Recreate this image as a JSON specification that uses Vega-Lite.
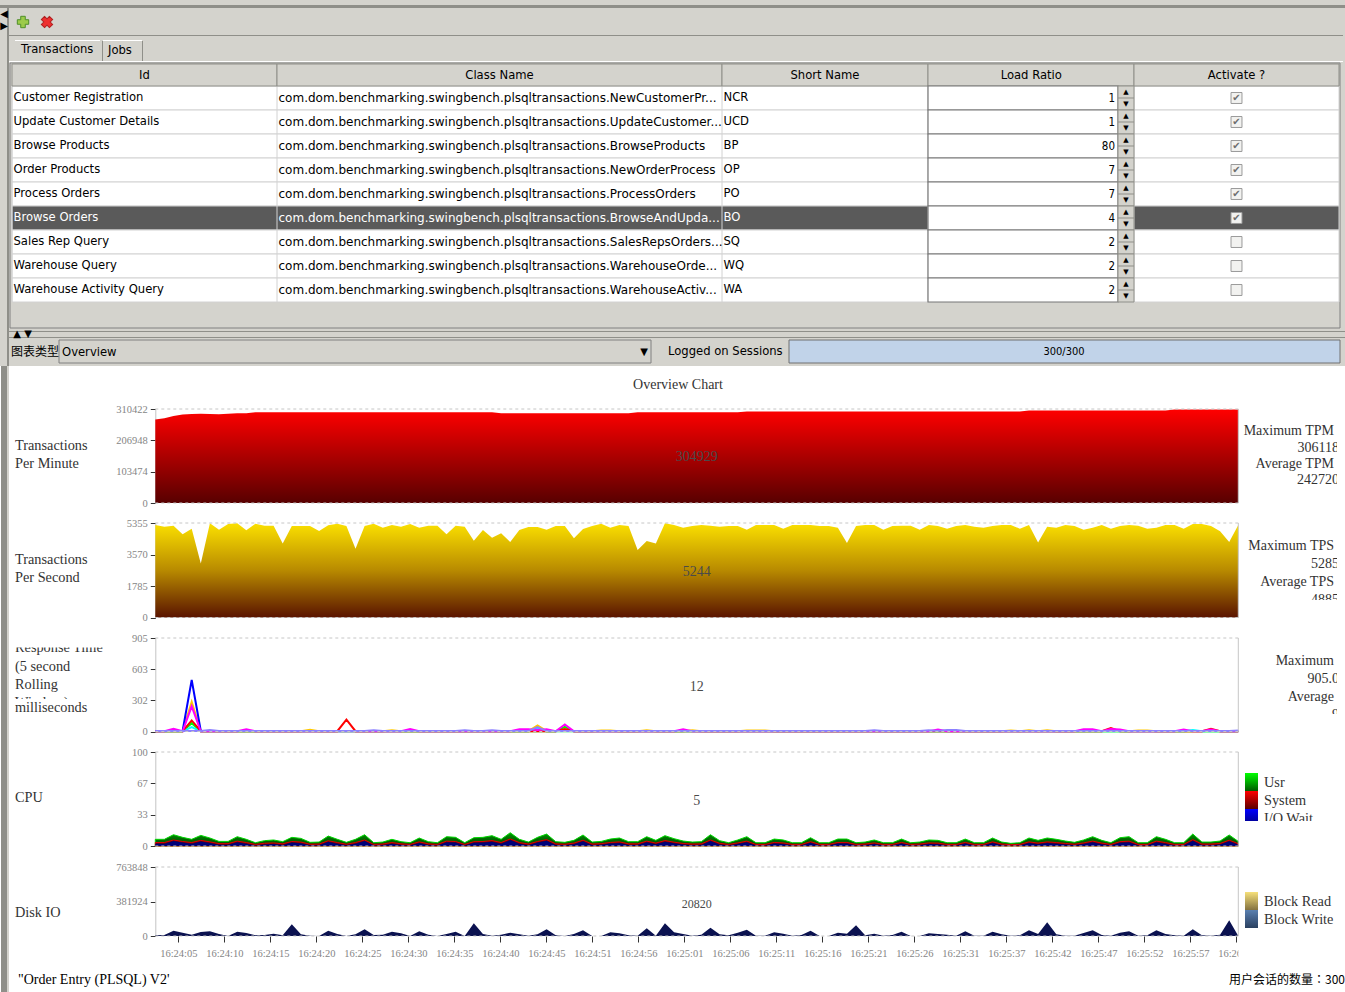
{
  "$schema": "https://vega.github.io/schema/vega-lite/v6.json",
  "width": 1345,
  "height": 992,
  "padding": 0,
  "autosize": {"type": "none"},
  "background": "white",
  "config": {
    "view": {"stroke": null},
    "axis": {"grid": false, "title": null, "labelFont": "Liberation Serif", "labelFontSize": 10.5, "labelColor": "#858585", "tickColor": "#333333", "tickSize": 5, "domainColor": "#c4c4c4", "labelOverlap": false, "labelBound": false, "labelFlush": false, "labelPadding": 3}
  },
  "resolve": {
    "scale": {"x": "independent", "y": "independent", "color": "independent", "stroke": "independent"},
    "axis": {"x": "independent", "y": "independent"}
  },
  "datasets": {
    "chrome": [
      {"part": "panel", "x0": 0, "x1": 16, "y0": 0, "y1": 17},
      {"part": "edge", "x0": 0, "x1": 16, "y0": 1, "y1": 2},
      {"part": "edge", "x0": 3, "x1": 15, "y0": 3, "y1": 4},
      {"part": "white", "x0": 5, "x1": 7, "y0": 5, "y1": 6},
      {"part": "edge", "x0": 8, "x1": 9, "y0": 6, "y1": 7},
      {"part": "white", "x0": 9, "x1": 10, "y0": 5, "y1": 6},
      {"part": "edge", "x0": 10, "x1": 11, "y0": 6, "y1": 7},
      {"part": "white", "x0": 3, "x1": 15, "y0": 7, "y1": 8},
      {"part": "table", "x0": 4, "x1": 14, "y0": 9, "y1": 10},
      {"part": "edge", "x0": 3, "x1": 16, "y0": 11, "y1": 12},
      {"part": "edge", "x0": 3, "x1": 16, "y0": 13, "y1": 14},
      {"part": "table", "x0": 6, "x1": 12, "y0": 15, "y1": 16},
      {"part": "progress", "x0": 13, "x1": 14, "y0": 15, "y1": 16},
      {"part": "edge", "x0": 1, "x1": 2, "y0": 17, "y1": 18},
      {"part": "panel", "x0": 2, "x1": 3, "y0": 17, "y1": 18},
      {"part": "edge", "x0": 2, "x1": 3, "y0": 2, "y1": 17}
    ],
    "columns": [
      {"col": 0, "end": 1, "mid": 0.5, "name": "Id"},
      {"col": 1, "end": 2, "mid": 1.5, "name": "Class Name"},
      {"col": 2, "end": 3, "mid": 2.5, "name": "Short Name"},
      {"col": 3, "end": 4, "mid": 3.5, "name": "Load Ratio"},
      {"col": 4, "end": 5, "mid": 4.5, "name": "Activate ?"}
    ],
    "rows": [
      {"row": 0, "next": 1, "mid": 0.5, "ratio": 1, "active": true, "sel": "n"},
      {"row": 1, "next": 2, "mid": 1.5, "ratio": 1, "active": true, "sel": "n"},
      {"row": 2, "next": 3, "mid": 2.5, "ratio": 80, "active": true, "sel": "n"},
      {"row": 3, "next": 4, "mid": 3.5, "ratio": 7, "active": true, "sel": "n"},
      {"row": 4, "next": 5, "mid": 4.5, "ratio": 7, "active": true, "sel": "n"},
      {"row": 5, "next": 6, "mid": 5.5, "ratio": 4, "active": true, "sel": "y"},
      {"row": 6, "next": 7, "mid": 6.5, "ratio": 2, "active": false, "sel": "n"},
      {"row": 7, "next": 8, "mid": 7.5, "ratio": 2, "active": false, "sel": "n"},
      {"row": 8, "next": 9, "mid": 8.5, "ratio": 2, "active": false, "sel": "n"}
    ],
    "cells": [
      {"col": 0, "mid": 0.5, "sel": "n", "text": "Customer Registration"},
      {"col": 1, "mid": 0.5, "sel": "n", "text": "com.dom.benchmarking.swingbench.plsqltransactions.NewCustomerPr..."},
      {"col": 2, "mid": 0.5, "sel": "n", "text": "NCR"},
      {"col": 0, "mid": 1.5, "sel": "n", "text": "Update Customer Details"},
      {"col": 1, "mid": 1.5, "sel": "n", "text": "com.dom.benchmarking.swingbench.plsqltransactions.UpdateCustomer..."},
      {"col": 2, "mid": 1.5, "sel": "n", "text": "UCD"},
      {"col": 0, "mid": 2.5, "sel": "n", "text": "Browse Products"},
      {"col": 1, "mid": 2.5, "sel": "n", "text": "com.dom.benchmarking.swingbench.plsqltransactions.BrowseProducts"},
      {"col": 2, "mid": 2.5, "sel": "n", "text": "BP"},
      {"col": 0, "mid": 3.5, "sel": "n", "text": "Order Products"},
      {"col": 1, "mid": 3.5, "sel": "n", "text": "com.dom.benchmarking.swingbench.plsqltransactions.NewOrderProcess"},
      {"col": 2, "mid": 3.5, "sel": "n", "text": "OP"},
      {"col": 0, "mid": 4.5, "sel": "n", "text": "Process Orders"},
      {"col": 1, "mid": 4.5, "sel": "n", "text": "com.dom.benchmarking.swingbench.plsqltransactions.ProcessOrders"},
      {"col": 2, "mid": 4.5, "sel": "n", "text": "PO"},
      {"col": 0, "mid": 5.5, "sel": "y", "text": "Browse Orders"},
      {"col": 1, "mid": 5.5, "sel": "y", "text": "com.dom.benchmarking.swingbench.plsqltransactions.BrowseAndUpda..."},
      {"col": 2, "mid": 5.5, "sel": "y", "text": "BO"},
      {"col": 0, "mid": 6.5, "sel": "n", "text": "Sales Rep Query"},
      {"col": 1, "mid": 6.5, "sel": "n", "text": "com.dom.benchmarking.swingbench.plsqltransactions.SalesRepsOrders..."},
      {"col": 2, "mid": 6.5, "sel": "n", "text": "SQ"},
      {"col": 0, "mid": 7.5, "sel": "n", "text": "Warehouse Query"},
      {"col": 1, "mid": 7.5, "sel": "n", "text": "com.dom.benchmarking.swingbench.plsqltransactions.WarehouseOrde..."},
      {"col": 2, "mid": 7.5, "sel": "n", "text": "WQ"},
      {"col": 0, "mid": 8.5, "sel": "n", "text": "Warehouse Activity Query"},
      {"col": 1, "mid": 8.5, "sel": "n", "text": "com.dom.benchmarking.swingbench.plsqltransactions.WarehouseActiv..."},
      {"col": 2, "mid": 8.5, "sel": "n", "text": "WA"}
    ],
    "samples": [
      {"s":0,"tpm":275900,"tps":5241,"usr":7.1,"sys":3.7,"io":2.5,"disk":7400},
      {"s":1,"tpm":280000,"tps":5146,"usr":7.1,"sys":3.7,"io":2.5,"disk":11100},
      {"s":2,"tpm":287000,"tps":5203,"usr":12,"sys":6.4,"io":5.2,"disk":59300},
      {"s":3,"tpm":292000,"tps":4711,"usr":9.2,"sys":4.8,"io":3.6,"disk":37100},
      {"s":4,"tpm":294000,"tps":5033,"usr":7.1,"sys":3.7,"io":2.5,"disk":14800},
      {"s":5,"tpm":295000,"tps":3065,"usr":11.3,"sys":6,"io":4.8,"disk":44500},
      {"s":6,"tpm":294300,"tps":5335,"usr":8.5,"sys":4.4,"io":3.2,"disk":51900},
      {"s":7,"tpm":293000,"tps":4976,"usr":4.9,"sys":2.5,"io":1.3,"disk":22200},
      {"s":8,"tpm":295000,"tps":5298,"usr":4.9,"sys":2.5,"io":1.3,"disk":0},
      {"s":9,"tpm":296000,"tps":5335,"usr":9.9,"sys":5.2,"io":4,"disk":48200},
      {"s":10,"tpm":296000,"tps":4938,"usr":7.1,"sys":3.7,"io":2.5,"disk":33400},
      {"s":11,"tpm":299300,"tps":5317,"usr":3.5,"sys":1.7,"io":0.5,"disk":7400},
      {"s":12,"tpm":299300,"tps":5203,"usr":5.7,"sys":2.9,"io":1.7,"disk":11100},
      {"s":13,"tpm":299300,"tps":5203,"usr":6.4,"sys":3.3,"io":2.1,"disk":26000},
      {"s":14,"tpm":299300,"tps":4200,"usr":4.6,"sys":2.3,"io":1.1,"disk":7400},
      {"s":15,"tpm":299300,"tps":5184,"usr":9.2,"sys":4.8,"io":3.6,"disk":129800},
      {"s":16,"tpm":299300,"tps":5184,"usr":8.1,"sys":4.2,"io":3,"disk":18500},
      {"s":17,"tpm":299300,"tps":5184,"usr":3.9,"sys":1.9,"io":0.8,"disk":3700},
      {"s":18,"tpm":299300,"tps":4900,"usr":4.2,"sys":2.1,"io":0.9,"disk":0},
      {"s":19,"tpm":299300,"tps":5222,"usr":10.6,"sys":5.6,"io":4.4,"disk":59300},
      {"s":20,"tpm":299300,"tps":5317,"usr":7.1,"sys":3.7,"io":2.5,"disk":22200},
      {"s":21,"tpm":299300,"tps":5184,"usr":3.9,"sys":1.9,"io":0.8,"disk":0},
      {"s":22,"tpm":299300,"tps":3897,"usr":7.1,"sys":3.7,"io":2.5,"disk":18500},
      {"s":23,"tpm":299300,"tps":5184,"usr":12,"sys":6.4,"io":5.2,"disk":74200},
      {"s":24,"tpm":299300,"tps":5317,"usr":3.5,"sys":1.7,"io":0.5,"disk":11100},
      {"s":25,"tpm":299300,"tps":5089,"usr":4.2,"sys":2.1,"io":0.9,"disk":14800},
      {"s":26,"tpm":299300,"tps":5241,"usr":7.1,"sys":3.7,"io":2.5,"disk":48200},
      {"s":27,"tpm":299300,"tps":5146,"usr":4.6,"sys":2.3,"io":1.1,"disk":29700},
      {"s":28,"tpm":299300,"tps":5298,"usr":3.5,"sys":1.7,"io":0.5,"disk":0},
      {"s":29,"tpm":299300,"tps":5089,"usr":8.5,"sys":4.4,"io":3.2,"disk":51900},
      {"s":30,"tpm":299300,"tps":5203,"usr":4.6,"sys":2.3,"io":1.1,"disk":14800},
      {"s":31,"tpm":299300,"tps":5203,"usr":3.5,"sys":1.7,"io":0.5,"disk":0},
      {"s":32,"tpm":299300,"tps":4711,"usr":9.9,"sys":5.2,"io":4,"disk":22200},
      {"s":33,"tpm":299300,"tps":5203,"usr":9.2,"sys":4.8,"io":3.6,"disk":48200},
      {"s":34,"tpm":299300,"tps":5146,"usr":3.5,"sys":1.7,"io":0.5,"disk":0},
      {"s":35,"tpm":299300,"tps":4352,"usr":8.8,"sys":4.6,"io":3.4,"disk":140900},
      {"s":36,"tpm":299300,"tps":4957,"usr":9.2,"sys":4.8,"io":3.6,"disk":22200},
      {"s":37,"tpm":299300,"tps":4522,"usr":11,"sys":5.8,"io":4.6,"disk":3700},
      {"s":38,"tpm":296500,"tps":4768,"usr":7.1,"sys":3.7,"io":2.5,"disk":14800},
      {"s":39,"tpm":296500,"tps":4276,"usr":14.1,"sys":7.5,"io":6.3,"disk":37100},
      {"s":40,"tpm":296500,"tps":4957,"usr":7.1,"sys":3.7,"io":2.5,"disk":18500},
      {"s":41,"tpm":296500,"tps":5127,"usr":4.2,"sys":2.1,"io":0.9,"disk":3700},
      {"s":42,"tpm":296500,"tps":5127,"usr":9.2,"sys":4.8,"io":3.6,"disk":18500},
      {"s":43,"tpm":296500,"tps":4976,"usr":12.7,"sys":6.8,"io":5.6,"disk":74200},
      {"s":44,"tpm":296500,"tps":5184,"usr":4.6,"sys":2.3,"io":1.1,"disk":7400},
      {"s":45,"tpm":296500,"tps":5184,"usr":3.9,"sys":1.9,"io":0.8,"disk":0},
      {"s":46,"tpm":296500,"tps":4484,"usr":6,"sys":3.1,"io":1.9,"disk":22200},
      {"s":47,"tpm":296500,"tps":5014,"usr":11.7,"sys":6.2,"io":5,"disk":63000},
      {"s":48,"tpm":296500,"tps":5184,"usr":4.2,"sys":2.1,"io":0.9,"disk":0},
      {"s":49,"tpm":296500,"tps":5317,"usr":4.9,"sys":2.5,"io":1.3,"disk":0},
      {"s":50,"tpm":296500,"tps":5089,"usr":7.4,"sys":3.8,"io":2.6,"disk":40800},
      {"s":51,"tpm":296500,"tps":5241,"usr":8.5,"sys":4.4,"io":3.2,"disk":29700},
      {"s":52,"tpm":296500,"tps":5184,"usr":4.6,"sys":2.3,"io":1.1,"disk":7400},
      {"s":53,"tpm":299300,"tps":3822,"usr":4.6,"sys":2.3,"io":1.1,"disk":3700},
      {"s":54,"tpm":299300,"tps":4333,"usr":9.9,"sys":5.2,"io":4,"disk":85300},
      {"s":55,"tpm":299300,"tps":4200,"usr":6,"sys":3.1,"io":1.9,"disk":3700},
      {"s":56,"tpm":299300,"tps":5335,"usr":11,"sys":5.8,"io":4.6,"disk":140900},
      {"s":57,"tpm":299300,"tps":5241,"usr":7.8,"sys":4.1,"io":2.9,"disk":40800},
      {"s":58,"tpm":299300,"tps":5089,"usr":5.3,"sys":2.7,"io":1.5,"disk":22200},
      {"s":59,"tpm":299300,"tps":5184,"usr":4.2,"sys":2.1,"io":0.9,"disk":3700},
      {"s":60,"tpm":299300,"tps":5241,"usr":4.6,"sys":2.3,"io":1.1,"disk":14800},
      {"s":61,"tpm":299300,"tps":5203,"usr":12,"sys":6.4,"io":5.2,"disk":92700},
      {"s":62,"tpm":299300,"tps":5146,"usr":5.7,"sys":2.9,"io":1.7,"disk":18500},
      {"s":63,"tpm":299300,"tps":5184,"usr":3.5,"sys":1.7,"io":0.5,"disk":7400},
      {"s":64,"tpm":299300,"tps":5184,"usr":6.4,"sys":3.3,"io":2.1,"disk":37100},
      {"s":65,"tpm":302000,"tps":4976,"usr":9.9,"sys":5.2,"io":4,"disk":70500},
      {"s":66,"tpm":302000,"tps":5241,"usr":3.5,"sys":1.7,"io":0.5,"disk":3700},
      {"s":67,"tpm":302000,"tps":5241,"usr":3.5,"sys":1.7,"io":0.5,"disk":3700},
      {"s":68,"tpm":302000,"tps":5241,"usr":7.4,"sys":3.8,"io":2.6,"disk":40800},
      {"s":69,"tpm":302000,"tps":5033,"usr":6.4,"sys":3.3,"io":2.1,"disk":26000},
      {"s":70,"tpm":302000,"tps":5241,"usr":3.5,"sys":1.7,"io":0.5,"disk":3700},
      {"s":71,"tpm":302000,"tps":5241,"usr":3.5,"sys":1.7,"io":0.5,"disk":11100},
      {"s":72,"tpm":302000,"tps":5241,"usr":8.8,"sys":4.6,"io":3.4,"disk":59300},
      {"s":73,"tpm":302000,"tps":5184,"usr":3.5,"sys":1.7,"io":0.5,"disk":0},
      {"s":74,"tpm":302000,"tps":5184,"usr":3.5,"sys":1.7,"io":0.5,"disk":0},
      {"s":75,"tpm":302000,"tps":5089,"usr":7.4,"sys":3.8,"io":2.6,"disk":37100},
      {"s":76,"tpm":302000,"tps":4219,"usr":7.4,"sys":3.8,"io":2.6,"disk":26000},
      {"s":77,"tpm":302000,"tps":5184,"usr":3.5,"sys":1.7,"io":0.5,"disk":118700},
      {"s":78,"tpm":302000,"tps":5241,"usr":4.2,"sys":2.1,"io":0.9,"disk":7400},
      {"s":79,"tpm":302000,"tps":5241,"usr":6.4,"sys":3.3,"io":2.1,"disk":26000},
      {"s":80,"tpm":302000,"tps":4976,"usr":3.5,"sys":1.7,"io":0.5,"disk":3700},
      {"s":81,"tpm":302000,"tps":5184,"usr":3.5,"sys":1.7,"io":0.5,"disk":11100},
      {"s":82,"tpm":302000,"tps":5203,"usr":7.4,"sys":3.8,"io":2.6,"disk":48200},
      {"s":83,"tpm":302000,"tps":5203,"usr":3.5,"sys":1.7,"io":0.5,"disk":0},
      {"s":84,"tpm":302000,"tps":4976,"usr":4.2,"sys":2.1,"io":0.9,"disk":0},
      {"s":85,"tpm":302000,"tps":5241,"usr":6.4,"sys":3.3,"io":2.1,"disk":29700},
      {"s":86,"tpm":302000,"tps":5184,"usr":6,"sys":3.1,"io":1.9,"disk":22200},
      {"s":87,"tpm":302000,"tps":5033,"usr":3.5,"sys":1.7,"io":0.5,"disk":14800},
      {"s":88,"tpm":302000,"tps":5184,"usr":3.5,"sys":1.7,"io":0.5,"disk":3700},
      {"s":89,"tpm":302000,"tps":5241,"usr":7.4,"sys":3.8,"io":2.6,"disk":51900},
      {"s":90,"tpm":302000,"tps":5146,"usr":3.5,"sys":1.7,"io":0.5,"disk":3700},
      {"s":91,"tpm":302000,"tps":5089,"usr":3.5,"sys":1.7,"io":0.5,"disk":3700},
      {"s":92,"tpm":302000,"tps":5184,"usr":8.5,"sys":4.4,"io":3.2,"disk":48200},
      {"s":93,"tpm":302000,"tps":5241,"usr":4.2,"sys":2.1,"io":0.9,"disk":18500},
      {"s":94,"tpm":302000,"tps":5241,"usr":2.8,"sys":1.4,"io":0.3,"disk":3700},
      {"s":95,"tpm":302000,"tps":5033,"usr":3.5,"sys":1.7,"io":0.5,"disk":7400},
      {"s":96,"tpm":305500,"tps":5241,"usr":8.5,"sys":4.4,"io":3.2,"disk":63000},
      {"s":97,"tpm":305500,"tps":4257,"usr":6,"sys":3.1,"io":1.9,"disk":22200},
      {"s":98,"tpm":305500,"tps":5146,"usr":8.5,"sys":4.4,"io":3.2,"disk":152000},
      {"s":99,"tpm":305500,"tps":5089,"usr":7.1,"sys":3.7,"io":2.5,"disk":18500},
      {"s":100,"tpm":305500,"tps":5241,"usr":5.3,"sys":2.7,"io":1.5,"disk":3700},
      {"s":101,"tpm":305500,"tps":5184,"usr":3.9,"sys":1.9,"io":0.8,"disk":3700},
      {"s":102,"tpm":305500,"tps":4976,"usr":6.4,"sys":3.3,"io":2.1,"disk":33400},
      {"s":103,"tpm":305500,"tps":5089,"usr":9.9,"sys":5.2,"io":4,"disk":63000},
      {"s":104,"tpm":305500,"tps":5241,"usr":6,"sys":3.1,"io":1.9,"disk":11100},
      {"s":105,"tpm":305500,"tps":5033,"usr":3.5,"sys":1.7,"io":0.5,"disk":3700},
      {"s":106,"tpm":305500,"tps":5184,"usr":8.8,"sys":4.6,"io":3.4,"disk":37100},
      {"s":107,"tpm":305500,"tps":5241,"usr":9.9,"sys":5.2,"io":4,"disk":51900},
      {"s":108,"tpm":305500,"tps":5203,"usr":3.5,"sys":1.7,"io":0.5,"disk":3700},
      {"s":109,"tpm":305500,"tps":5033,"usr":3.5,"sys":1.7,"io":0.5,"disk":7400},
      {"s":110,"tpm":305500,"tps":5089,"usr":9.9,"sys":5.2,"io":4,"disk":63000},
      {"s":111,"tpm":305500,"tps":5241,"usr":7.1,"sys":3.7,"io":2.5,"disk":22200},
      {"s":112,"tpm":308500,"tps":5241,"usr":3.5,"sys":1.7,"io":0.5,"disk":7400},
      {"s":113,"tpm":308500,"tps":5033,"usr":3.5,"sys":1.7,"io":0.5,"disk":3700},
      {"s":114,"tpm":308500,"tps":5298,"usr":12.7,"sys":6.8,"io":5.6,"disk":74200},
      {"s":115,"tpm":308500,"tps":5298,"usr":4.2,"sys":2.1,"io":0.9,"disk":7400},
      {"s":116,"tpm":308500,"tps":5184,"usr":4.2,"sys":2.1,"io":0.9,"disk":3700},
      {"s":117,"tpm":308500,"tps":4881,"usr":5.3,"sys":2.7,"io":1.5,"disk":14800},
      {"s":118,"tpm":308500,"tps":4276,"usr":11.7,"sys":6.2,"io":5,"disk":174300},
      {"s":119,"tpm":308500,"tps":5241,"usr":4.9,"sys":2.5,"io":1.3,"disk":0}
    ],
    "response": [
      {"tx":"OP","s":0,"ms":3},{"tx":"OP","s":3,"ms":3},{"tx":"OP","s":4,"ms":286},{"tx":"OP","s":5,"ms":3},{"tx":"OP","s":16,"ms":3},{"tx":"OP","s":17,"ms":16},{"tx":"OP","s":18,"ms":3},{"tx":"OP","s":25,"ms":3},{"tx":"OP","s":26,"ms":12},{"tx":"OP","s":27,"ms":3},{"tx":"OP","s":41,"ms":3},{"tx":"OP","s":42,"ms":58},{"tx":"OP","s":43,"ms":3},{"tx":"OP","s":48,"ms":3},{"tx":"OP","s":49,"ms":10},{"tx":"OP","s":50,"ms":10},{"tx":"OP","s":51,"ms":3},{"tx":"OP","s":53,"ms":3},{"tx":"OP","s":54,"ms":12},{"tx":"OP","s":55,"ms":3},{"tx":"OP","s":58,"ms":3},{"tx":"OP","s":59,"ms":12},{"tx":"OP","s":60,"ms":3},{"tx":"OP","s":64,"ms":3},{"tx":"OP","s":65,"ms":10},{"tx":"OP","s":67,"ms":10},{"tx":"OP","s":68,"ms":3},{"tx":"OP","s":93,"ms":3},{"tx":"OP","s":94,"ms":10},{"tx":"OP","s":95,"ms":3},{"tx":"OP","s":96,"ms":12},{"tx":"OP","s":97,"ms":3},{"tx":"OP","s":98,"ms":12},{"tx":"OP","s":99,"ms":3},{"tx":"OP","s":107,"ms":3},{"tx":"OP","s":108,"ms":10},{"tx":"OP","s":109,"ms":10},{"tx":"OP","s":110,"ms":3},{"tx":"OP","s":119,"ms":3},
      {"tx":"PO","s":0,"ms":5},{"tx":"PO","s":3,"ms":5},{"tx":"PO","s":4,"ms":498},{"tx":"PO","s":5,"ms":5},{"tx":"PO","s":119,"ms":5},
      {"tx":"BO","s":0,"ms":2},{"tx":"BO","s":3,"ms":2},{"tx":"BO","s":4,"ms":81},{"tx":"BO","s":5,"ms":2},{"tx":"BO","s":44,"ms":2},{"tx":"BO","s":45,"ms":45},{"tx":"BO","s":46,"ms":2},{"tx":"BO","s":119,"ms":2},
      {"tx":"SQ","s":0,"ms":2},{"tx":"SQ","s":3,"ms":2},{"tx":"SQ","s":4,"ms":42},{"tx":"SQ","s":5,"ms":2},{"tx":"SQ","s":41,"ms":2},{"tx":"SQ","s":42,"ms":28},{"tx":"SQ","s":43,"ms":2},{"tx":"SQ","s":113,"ms":2},{"tx":"SQ","s":114,"ms":14},{"tx":"SQ","s":115,"ms":2},{"tx":"SQ","s":119,"ms":2},
      {"tx":"NCR","s":0,"ms":3},{"tx":"NCR","s":3,"ms":3},{"tx":"NCR","s":4,"ms":107},{"tx":"NCR","s":5,"ms":3},{"tx":"NCR","s":20,"ms":3},{"tx":"NCR","s":21,"ms":114},{"tx":"NCR","s":22,"ms":3},{"tx":"NCR","s":44,"ms":3},{"tx":"NCR","s":45,"ms":25},{"tx":"NCR","s":46,"ms":3},{"tx":"NCR","s":104,"ms":3},{"tx":"NCR","s":105,"ms":34},{"tx":"NCR","s":106,"ms":3},{"tx":"NCR","s":115,"ms":3},{"tx":"NCR","s":116,"ms":26},{"tx":"NCR","s":117,"ms":3},{"tx":"NCR","s":119,"ms":3},
      {"tx":"UCD","s":0,"ms":2},{"tx":"UCD","s":1,"ms":2},{"tx":"UCD","s":2,"ms":26},{"tx":"UCD","s":3,"ms":2},{"tx":"UCD","s":4,"ms":244},{"tx":"UCD","s":5,"ms":2},{"tx":"UCD","s":9,"ms":2},{"tx":"UCD","s":10,"ms":22},{"tx":"UCD","s":11,"ms":2},{"tx":"UCD","s":27,"ms":2},{"tx":"UCD","s":28,"ms":24},{"tx":"UCD","s":29,"ms":2},{"tx":"UCD","s":39,"ms":2},{"tx":"UCD","s":40,"ms":22},{"tx":"UCD","s":41,"ms":22},{"tx":"UCD","s":42,"ms":14},{"tx":"UCD","s":43,"ms":22},{"tx":"UCD","s":44,"ms":2},{"tx":"UCD","s":45,"ms":68},{"tx":"UCD","s":46,"ms":2},{"tx":"UCD","s":57,"ms":2},{"tx":"UCD","s":58,"ms":22},{"tx":"UCD","s":59,"ms":2},{"tx":"UCD","s":85,"ms":2},{"tx":"UCD","s":86,"ms":20},{"tx":"UCD","s":87,"ms":2},{"tx":"UCD","s":101,"ms":2},{"tx":"UCD","s":102,"ms":22},{"tx":"UCD","s":103,"ms":22},{"tx":"UCD","s":104,"ms":2},{"tx":"UCD","s":105,"ms":24},{"tx":"UCD","s":106,"ms":20},{"tx":"UCD","s":107,"ms":2},{"tx":"UCD","s":112,"ms":2},{"tx":"UCD","s":113,"ms":20},{"tx":"UCD","s":114,"ms":2},{"tx":"UCD","s":115,"ms":2},{"tx":"UCD","s":116,"ms":20},{"tx":"UCD","s":117,"ms":2},{"tx":"UCD","s":119,"ms":2},
      {"tx":"BP","s":0,"ms":4},{"tx":"BP","s":5,"ms":4},{"tx":"BP","s":6,"ms":14},{"tx":"BP","s":7,"ms":4},{"tx":"BP","s":23,"ms":4},{"tx":"BP","s":24,"ms":12},{"tx":"BP","s":25,"ms":4},{"tx":"BP","s":33,"ms":4},{"tx":"BP","s":34,"ms":12},{"tx":"BP","s":35,"ms":4},{"tx":"BP","s":36,"ms":4},{"tx":"BP","s":37,"ms":12},{"tx":"BP","s":38,"ms":4},{"tx":"BP","s":41,"ms":4},{"tx":"BP","s":42,"ms":42},{"tx":"BP","s":43,"ms":4},{"tx":"BP","s":78,"ms":4},{"tx":"BP","s":79,"ms":13},{"tx":"BP","s":80,"ms":4},{"tx":"BP","s":84,"ms":4},{"tx":"BP","s":85,"ms":12},{"tx":"BP","s":86,"ms":4},{"tx":"BP","s":87,"ms":14},{"tx":"BP","s":88,"ms":14},{"tx":"BP","s":89,"ms":4},{"tx":"BP","s":118,"ms":4},{"tx":"BP","s":119,"ms":10}
    ],
    "ticks": [
      {"time":"16:24:05"},{"time":"16:24:10"},{"time":"16:24:15"},{"time":"16:24:20"},{"time":"16:24:25"},{"time":"16:24:30"},{"time":"16:24:35"},{"time":"16:24:40"},{"time":"16:24:45"},{"time":"16:24:51"},{"time":"16:24:56"},{"time":"16:25:01"},{"time":"16:25:06"},{"time":"16:25:11"},{"time":"16:25:16"},{"time":"16:25:21"},{"time":"16:25:26"},{"time":"16:25:31"},{"time":"16:25:37"},{"time":"16:25:42"},{"time":"16:25:47"},{"time":"16:25:52"},{"time":"16:25:57"},{"time":"16:26:02"}
    ]
  },
  "layer": [
    {
      "data": {"name": "chrome"},
      "mark": {"type": "rect", "strokeWidth": 1},
      "encoding": {
        "x": {"field": "x0", "type": "quantitative", "axis": null, "scale": {"domain": [0,1,2,3,4,5,6,7,8,9,10,11,12,13,14,15,16], "range": [0,1,7,9,10,15,59,100,102,103,142,143,651,789,1340,1343,1345]}},
        "x2": {"field": "x1"},
        "y": {"field": "y0", "type": "quantitative", "axis": null, "scale": {"domain": [0,1,2,3,4,5,6,7,8,9,10,11,12,13,14,15,16,17,18], "range": [0,5,8,35,36,40,41,61,62,63,328,331,332,337,338,340,363,366,992]}},
        "y2": {"field": "y1"},
        "color": {"field": "part", "type": "nominal", "legend": null, "scale": {"domain": ["panel","edge","white","table","progress"], "range": ["#d4d3cd","#8f8f89","#ffffff","#d4d3cd","#c1d3e9"]}},
        "stroke": {"field": "part", "type": "nominal", "legend": null, "scale": {"domain": ["panel","edge","white","table","progress"], "range": ["transparent","transparent","transparent","#808080","#707070"]}}
      }
    },
    {
      "data": {"name": "rows"},
      "mark": {"type": "rect", "stroke": "#d2d2d2", "strokeWidth": 1},
      "encoding": {
        "x": {"datum": 0, "type": "quantitative", "axis": null, "scale": {"domain": [0,1,2,3,3.92,4,5], "range": [12,277,722,928,1118,1134,1339]}},
        "x2": {"datum": 5},
        "y": {"field": "row", "type": "quantitative", "axis": null, "scale": {"domain": [-1,0,9], "range": [64,86,302]}},
        "y2": {"field": "next"},
        "color": {"field": "sel", "type": "nominal", "legend": null, "scale": {"domain": ["n","y"], "range": ["#ffffff","#5a5a5a"]}}
      }
    },
    {
      "data": {"name": "columns"},
      "mark": {"type": "rule", "color": "#d2d2d2", "strokeWidth": 1},
      "encoding": {
        "x": {"field": "col", "type": "quantitative", "axis": null, "scale": {"domain": [0,1,2,3,3.92,4,5], "range": [12,277,722,928,1118,1134,1339]}},
        "y": {"datum": 0, "type": "quantitative", "axis": null, "scale": {"domain": [-1,0,9], "range": [64,86,302]}},
        "y2": {"datum": 9}
      }
    },
    {
      "data": {"name": "columns"},
      "mark": {"type": "rect", "fill": "#d4d3cd", "stroke": "#8f8f89", "strokeWidth": 1},
      "encoding": {
        "x": {"field": "col", "type": "quantitative", "axis": null, "scale": {"domain": [0,1,2,3,3.92,4,5], "range": [12,277,722,928,1118,1134,1339]}},
        "x2": {"field": "end"},
        "y": {"datum": -1, "type": "quantitative", "axis": null, "scale": {"domain": [-1,0,9], "range": [64,86,302]}},
        "y2": {"datum": 0}
      }
    },
    {
      "data": {"name": "columns"},
      "mark": {"type": "text", "font": "DejaVu Sans", "fontSize": 11.6, "color": "#000000", "align": "center", "baseline": "middle", "dy": 12},
      "encoding": {
        "x": {"field": "mid", "type": "quantitative", "axis": null, "scale": {"domain": [0,1,2,3,3.92,4,5], "range": [12,277,722,928,1118,1134,1339]}},
        "y": {"datum": -1, "type": "quantitative", "axis": null, "scale": {"domain": [-1,0,9], "range": [64,86,302]}},
        "text": {"field": "name"}
      }
    },
    {
      "data": {"name": "cells"},
      "mark": {"type": "text", "font": "DejaVu Sans", "align": "left", "baseline": "middle", "dx": 1.5},
      "encoding": {
        "x": {"field": "col", "type": "quantitative", "axis": null, "scale": {"domain": [0,1,2,3,3.92,4,5], "range": [12,277,722,928,1118,1134,1339]}},
        "y": {"field": "mid", "type": "quantitative", "axis": null, "scale": {"domain": [-1,0,9], "range": [64,86,302]}},
        "text": {"field": "text"},
        "size": {"condition": {"test": "datum.col == 1", "value": 12}, "value": 11.6},
        "color": {"field": "sel", "type": "nominal", "legend": null, "scale": {"domain": ["n","y"], "range": ["#000000","#ffffff"]}}
      }
    },
    {
      "data": {"name": "rows"},
      "mark": {"type": "rect", "fill": "#ffffff", "stroke": "#777777", "strokeWidth": 1.2},
      "encoding": {
        "x": {"datum": 3, "type": "quantitative", "axis": null, "scale": {"domain": [0,1,2,3,3.92,4,5], "range": [12,277,722,928,1118,1134,1339]}},
        "x2": {"datum": 3.92},
        "y": {"field": "row", "type": "quantitative", "axis": null, "scale": {"domain": [-1,0,9], "range": [64,86,302]}},
        "y2": {"field": "next"}
      }
    },
    {
      "data": {"name": "rows"},
      "mark": {"type": "rect", "fill": "#d4d3cd", "stroke": "#8f8f89", "strokeWidth": 1},
      "encoding": {
        "x": {"datum": 3.92, "type": "quantitative", "axis": null, "scale": {"domain": [0,1,2,3,3.92,4,5], "range": [12,277,722,928,1118,1134,1339]}},
        "x2": {"datum": 4},
        "y": {"field": "row", "type": "quantitative", "axis": null, "scale": {"domain": [-1,0,9], "range": [64,86,302]}},
        "y2": {"field": "next"}
      }
    },
    {
      "data": {"name": "rows"},
      "mark": {"type": "rule", "color": "#8f8f89", "strokeWidth": 1},
      "encoding": {
        "x": {"datum": 3.92, "type": "quantitative", "axis": null, "scale": {"domain": [0,1,2,3,3.92,4,5], "range": [12,277,722,928,1118,1134,1339]}},
        "x2": {"datum": 4},
        "y": {"field": "mid", "type": "quantitative", "axis": null, "scale": {"domain": [-1,0,9], "range": [64,86,302]}}
      }
    },
    {
      "data": {"name": "rows"},
      "mark": {"type": "text", "font": "DejaVu Sans Condensed", "fontSize": 11.5, "color": "#000000", "align": "right", "baseline": "middle", "dx": -3, "dy": 1},
      "encoding": {
        "x": {"datum": 3.92, "type": "quantitative", "axis": null, "scale": {"domain": [0,1,2,3,3.92,4,5], "range": [12,277,722,928,1118,1134,1339]}},
        "y": {"field": "mid", "type": "quantitative", "axis": null, "scale": {"domain": [-1,0,9], "range": [64,86,302]}},
        "text": {"field": "ratio"}
      }
    },
    {
      "data": {"name": "rows"},
      "mark": {"type": "text", "font": "DejaVu Sans", "fontSize": 7, "color": "#000000", "align": "center", "baseline": "middle", "dy": -6},
      "encoding": {
        "x": {"datum": 3.96, "type": "quantitative", "axis": null, "scale": {"domain": [0,1,2,3,3.92,4,5], "range": [12,277,722,928,1118,1134,1339]}},
        "y": {"field": "mid", "type": "quantitative", "axis": null, "scale": {"domain": [-1,0,9], "range": [64,86,302]}},
        "text": {"value": "▲"}
      }
    },
    {
      "data": {"name": "rows"},
      "mark": {"type": "text", "font": "DejaVu Sans", "fontSize": 7, "color": "#000000", "align": "center", "baseline": "middle", "dy": 6},
      "encoding": {
        "x": {"datum": 3.96, "type": "quantitative", "axis": null, "scale": {"domain": [0,1,2,3,3.92,4,5], "range": [12,277,722,928,1118,1134,1339]}},
        "y": {"field": "mid", "type": "quantitative", "axis": null, "scale": {"domain": [-1,0,9], "range": [64,86,302]}},
        "text": {"value": "▼"}
      }
    },
    {
      "data": {"name": "rows"},
      "mark": {"type": "point", "shape": "square", "size": 120, "filled": true, "fill": "#f2f2f0", "stroke": "#9a9a9a", "strokeWidth": 1, "opacity": 1},
      "encoding": {
        "x": {"datum": 4.5, "type": "quantitative", "axis": null, "scale": {"domain": [0,1,2,3,3.92,4,5], "range": [12,277,722,928,1118,1134,1339]}},
        "y": {"field": "mid", "type": "quantitative", "axis": null, "scale": {"domain": [-1,0,9], "range": [64,86,302]}}
      }
    },
    {
      "data": {"name": "rows"},
      "transform": [{"filter": "datum.active"}],
      "mark": {"type": "text", "font": "DejaVu Sans", "fontSize": 10, "color": "#6e6e6e", "align": "center", "baseline": "middle"},
      "encoding": {
        "x": {"datum": 4.5, "type": "quantitative", "axis": null, "scale": {"domain": [0,1,2,3,3.92,4,5], "range": [12,277,722,928,1118,1134,1339]}},
        "y": {"field": "mid", "type": "quantitative", "axis": null, "scale": {"domain": [-1,0,9], "range": [64,86,302]}},
        "text": {"value": "✔"}
      }
    },
    {
      "data": {"values": [{"slot": 0, "label": "Transactions"}, {"slot": 1, "label": "Jobs"}, {"slot": 2, "label": "Overview"}, {"slot": 3, "label": "Logged on Sessions"}]},
      "mark": {"type": "text", "font": "DejaVu Sans", "fontSize": 11.6, "color": "#000000", "align": "left", "baseline": "middle"},
      "encoding": {
        "x": {"field": "slot", "type": "quantitative", "axis": null, "scale": {"domain": [0,1,2,3], "range": [21,108,62,668]}},
        "y": {"field": "slot", "type": "quantitative", "axis": null, "scale": {"domain": [0,1,2,3], "range": [50,51,353,352]}},
        "text": {"field": "label"}
      }
    },
    {
      "data": {"values": [{"slot": 0, "label": "300/300"}]},
      "mark": {"type": "text", "font": "DejaVu Sans Condensed", "fontSize": 11, "color": "#000000", "align": "center", "baseline": "middle"},
      "encoding": {
        "x": {"field": "slot", "type": "quantitative", "axis": null, "scale": {"domain": [0,1], "range": [1064,1065]}},
        "y": {"field": "slot", "type": "quantitative", "axis": null, "scale": {"domain": [0,1], "range": [352,353]}},
        "text": {"field": "label"}
      }
    },
    {
      "data": {"values": [{"slot": 0, "label": "图表类型"}, {"slot": 1, "label": "用户会话的数量：300"}]},
      "mark": {"type": "text", "font": "Noto Sans CJK TC", "fontSize": 12, "color": "#000000", "align": "left", "baseline": "middle"},
      "encoding": {
        "x": {"field": "slot", "type": "quantitative", "axis": null, "scale": {"domain": [0,1], "range": [11,1229]}},
        "y": {"field": "slot", "type": "quantitative", "axis": null, "scale": {"domain": [0,1], "range": [352,980]}},
        "text": {"field": "label"}
      }
    },
    {
      "data": {"values": [{"slot": 0, "label": "◀"}, {"slot": 1, "label": "▶"}, {"slot": 2, "label": "▲"}, {"slot": 3, "label": "▼"}, {"slot": 4, "label": "▼"}]},
      "mark": {"type": "text", "font": "DejaVu Sans", "fontSize": 10, "color": "#000000", "align": "center", "baseline": "middle"},
      "encoding": {
        "x": {"field": "slot", "type": "quantitative", "axis": null, "scale": {"domain": [0,1,2,3,4], "range": [4,4,17,28,644]}},
        "y": {"field": "slot", "type": "quantitative", "axis": null, "scale": {"domain": [0,1,2,3,4], "range": [14,26,334,334,352]}},
        "text": {"field": "label"}
      }
    },
    {
      "data": {"values": [{"slot": 0}]},
      "mark": {"type": "point", "shape": "cross", "size": 130, "filled": true, "fill": "#9ccb4a", "stroke": "#4f8f2a", "strokeWidth": 1, "opacity": 1},
      "encoding": {
        "x": {"field": "slot", "type": "quantitative", "axis": null, "scale": {"domain": [0,1], "range": [23,24]}},
        "y": {"field": "slot", "type": "quantitative", "axis": null, "scale": {"domain": [0,1], "range": [22,23]}}
      }
    },
    {
      "data": {"values": [{"slot": 0}]},
      "mark": {"type": "point", "shape": "cross", "angle": 45, "size": 130, "filled": true, "fill": "#ee3030", "stroke": "#b02020", "strokeWidth": 1, "opacity": 1},
      "encoding": {
        "x": {"field": "slot", "type": "quantitative", "axis": null, "scale": {"domain": [0,1], "range": [47,48]}},
        "y": {"field": "slot", "type": "quantitative", "axis": null, "scale": {"domain": [0,1], "range": [22,23]}}
      }
    },
    {
      "data": {"name": "samples"},
      "mark": {"type": "area", "color": {"gradient": "linear", "x1": 1, "y1": 0, "x2": 1, "y2": 1, "stops": [{"offset": 0, "color": "#ff0000"}, {"offset": 1, "color": "#580000"}]}},
      "encoding": {
        "x": {"field": "s", "type": "quantitative", "axis": null, "scale": {"domain": [0, 119], "range": [155.3, 1238.3]}},
        "y": {"field": "tpm", "type": "quantitative", "scale": {"domain": [0, 310422], "range": [503, 409]}, "axis": {"orient": "left", "offset": -155.3, "values": [0, 103474, 206948, 310422], "format": "d"}}
      }
    },
    {
      "data": {"name": "samples"},
      "mark": {"type": "area", "color": {"gradient": "linear", "x1": 1, "y1": 0, "x2": 1, "y2": 1, "stops": [{"offset": 0, "color": "#fbe000"}, {"offset": 0.5, "color": "#b88a00"}, {"offset": 1, "color": "#5a1400"}]}},
      "encoding": {
        "x": {"field": "s", "type": "quantitative", "axis": null, "scale": {"domain": [0, 119], "range": [155.3, 1238.3]}},
        "y": {"field": "tps", "type": "quantitative", "scale": {"domain": [0, 5355], "range": [617.5, 523]}, "axis": {"orient": "left", "offset": -155.3, "values": [0, 1785, 3570, 5355], "format": "d"}}
      }
    },
    {
      "data": {"name": "response"},
      "mark": {"type": "line", "strokeWidth": 2},
      "encoding": {
        "x": {"field": "s", "type": "quantitative", "axis": null, "scale": {"domain": [0, 119], "range": [155.3, 1238.3]}},
        "y": {"field": "ms", "type": "quantitative", "scale": {"domain": [0, 905], "range": [731.5, 638]}, "axis": {"orient": "left", "offset": -155.3, "values": [0, 302, 603, 905], "format": "d"}},
        "color": {"field": "tx", "type": "nominal", "legend": null, "scale": {"domain": ["OP","PO","BO","SQ","NCR","UCD","BP"], "range": ["#ffc800","#0000ff","#00ff00","#00ffff","#ff0000","#ff00ff","#8c80ff"]}}
      }
    },
    {
      "data": {"name": "samples"},
      "mark": {"type": "area", "stroke": "#00d800", "strokeWidth": 1, "color": {"gradient": "linear", "x1": 1, "y1": 0, "x2": 1, "y2": 1, "stops": [{"offset": 0, "color": "#00a000"}, {"offset": 0.5, "color": "#006800"}, {"offset": 1, "color": "#005000"}]}},
      "encoding": {
        "x": {"field": "s", "type": "quantitative", "axis": null, "scale": {"domain": [0, 119], "range": [155.3, 1238.3]}},
        "y": {"field": "usr", "type": "quantitative", "scale": {"domain": [0, 100], "range": [846, 752]}, "axis": {"orient": "left", "offset": -155.3, "values": [0, 33, 67, 100], "format": "d"}}
      }
    },
    {
      "data": {"name": "samples"},
      "mark": {"type": "area", "stroke": "#e00000", "strokeWidth": 1, "color": "#700000"},
      "encoding": {
        "x": {"field": "s", "type": "quantitative", "axis": null, "scale": {"domain": [0, 119], "range": [155.3, 1238.3]}},
        "y": {"field": "sys", "type": "quantitative", "axis": null, "scale": {"domain": [0, 100], "range": [846, 752]}}
      }
    },
    {
      "data": {"name": "samples"},
      "mark": {"type": "area", "color": "#000078"},
      "encoding": {
        "x": {"field": "s", "type": "quantitative", "axis": null, "scale": {"domain": [0, 119], "range": [155.3, 1238.3]}},
        "y": {"field": "io", "type": "quantitative", "axis": null, "scale": {"domain": [0, 100], "range": [846, 752]}}
      }
    },
    {
      "data": {"name": "samples"},
      "mark": {"type": "area", "color": "#0b1250"},
      "encoding": {
        "x": {"field": "s", "type": "quantitative", "axis": null, "scale": {"domain": [0, 119], "range": [155.3, 1238.3]}},
        "y": {"field": "disk", "type": "quantitative", "scale": {"domain": [0, 763848], "range": [936, 867]}, "axis": {"orient": "left", "offset": -155.3, "values": [0, 381924, 763848], "format": "d"}}
      }
    },
    {
      "data": {"name": "ticks"},
      "mark": {"type": "point", "opacity": 0},
      "encoding": {
        "x": {"field": "time", "type": "ordinal", "scale": {"type": "point", "padding": 0, "range": [178.3, 1236.3]}, "axis": {"orient": "bottom", "offset": -56, "labelAngle": 0, "domain": false, "tickSize": 6, "labelPadding": 6, "labelAlign": "center"}, "sort": null}
      }
    },
    {
      "data": {"values": [{"edge": 0}, {"edge": 1}, {"edge": 2}, {"edge": 3}, {"edge": 4}, {"edge": 5}, {"edge": 6}, {"edge": 7}, {"edge": 8}, {"edge": 9}]},
      "mark": {"type": "rule", "color": "#c6c6c6", "strokeWidth": 1, "strokeDash": [3, 3]},
      "encoding": {
        "x": {"datum": 0, "type": "quantitative", "axis": null, "scale": {"domain": [0, 119], "range": [155.3, 1238.3]}},
        "x2": {"datum": 119},
        "y": {"field": "edge", "type": "quantitative", "axis": null, "scale": {"domain": [0,1,2,3,4,5,6,7,8,9], "range": [409,503,523,617.5,638,731.5,752,846,867,936]}}
      }
    },
    {
      "data": {"values": [{"edge": 0, "end": 1}, {"edge": 2, "end": 3}, {"edge": 4, "end": 5}, {"edge": 6, "end": 7}, {"edge": 8, "end": 9}]},
      "mark": {"type": "rule", "color": "#c6c6c6", "strokeWidth": 1},
      "encoding": {
        "x": {"datum": 119, "type": "quantitative", "axis": null, "scale": {"domain": [0, 119], "range": [155.3, 1238.3]}},
        "y": {"field": "edge", "type": "quantitative", "axis": null, "scale": {"domain": [0,1,2,3,4,5,6,7,8,9], "range": [409,503,523,617.5,638,731.5,752,846,867,936]}},
        "y2": {"field": "end"}
      }
    },
    {
      "data": {"values": [{"panel": 0, "label": "304929"}, {"panel": 1, "label": "5244"}, {"panel": 2, "label": "12"}, {"panel": 3, "label": "5"}, {"panel": 4, "label": "20820"}]},
      "mark": {"type": "text", "font": "Liberation Serif", "color": "#4a4a4a", "align": "center", "baseline": "middle"},
      "encoding": {
        "x": {"datum": 59.5, "type": "quantitative", "axis": null, "scale": {"domain": [0, 119], "range": [155.3, 1238.3]}},
        "y": {"field": "panel", "type": "quantitative", "axis": null, "scale": {"domain": [0,1,2,3,4], "range": [457,572,687,801,904]}},
        "text": {"field": "label"},
        "size": {"condition": {"test": "datum.panel == 4", "value": 12}, "value": 14}
      }
    },
    {
      "data": {"values": [
        {"slot":0,"label":"Transactions"},{"slot":1,"label":"Per Minute"},{"slot":2,"label":"Transactions"},{"slot":3,"label":"Per Second"},
        {"slot":4,"label":"Response Time"},{"slot":5,"label":"(5 second"},{"slot":6,"label":"Rolling"},{"slot":7,"label":"Window)"},
        {"slot":8,"label":"Usr"},{"slot":9,"label":"CPU"},{"slot":10,"label":"System"},{"slot":11,"label":"I/O Wait"},
        {"slot":12,"label":"Block Read"},{"slot":13,"label":"Disk IO"},{"slot":14,"label":"Block Write"}
      ]},
      "mark": {"type": "text", "font": "Liberation Serif", "fontSize": 14.3, "color": "#333333", "align": "left", "baseline": "middle"},
      "encoding": {
        "x": {"field": "slot", "type": "quantitative", "axis": null, "scale": {"domain": [0,1,2,3,4,5,6,7,8,9,10,11,12,13,14], "range": [15,15,15,15,15,15,15,15,1264,15,1264,1264,1264,15,1264]}},
        "y": {"field": "slot", "type": "quantitative", "axis": null, "scale": {"domain": [0,1,2,3,4,5,6,7,8,9,10,11,12,13,14], "range": [446,464,560,578,648,667,685,703,783,798,801,819,902,913,920]}},
        "text": {"field": "label"}
      }
    },
    {
      "data": {"values": [
        {"slot":0,"kind":"title","label":"Maximum TPM"},{"slot":1,"kind":"value","label":"306118"},{"slot":2,"kind":"title","label":"Average TPM"},{"slot":3,"kind":"value","label":"242720"},
        {"slot":4,"kind":"title","label":"Maximum TPS"},{"slot":5,"kind":"value","label":"5285"},{"slot":6,"kind":"title","label":"Average TPS"},{"slot":7,"kind":"value","label":"4885"},
        {"slot":8,"kind":"title","label":"Maximum"},{"slot":9,"kind":"value","label":"905.0"},{"slot":10,"kind":"title","label":"Average"},{"slot":11,"kind":"value","label":"9"}
      ]},
      "mark": {"type": "text", "font": "Liberation Serif", "fontSize": 14, "color": "#333333", "align": "right", "baseline": "middle"},
      "encoding": {
        "x": {"field": "kind", "type": "nominal", "axis": null, "scale": {"type": "point", "padding": 0, "domain": ["title","value"], "range": [1334, 1339]}},
        "y": {"field": "slot", "type": "quantitative", "axis": null, "scale": {"domain": [0,1,2,3,4,5,6,7,8,9,10,11], "range": [431,448,464,480,546,564,582,600,661,679,697,715]}},
        "text": {"field": "label"}
      }
    },
    {
      "data": {"values": [
        {"x0":3,"x1":6,"y0":1,"y1":2},{"x0":3,"x1":6,"y0":5,"y1":7},{"x0":3,"x1":6,"y0":8,"y1":9},
        {"x0":0,"x1":1,"y0":2,"y1":3},{"x0":0,"x1":1,"y0":4,"y1":6},{"x0":5,"x1":6,"y0":0,"y1":11},{"x0":2,"x1":4,"y0":10,"y1":11}
      ]},
      "mark": {"type": "rect", "fill": "#ffffff"},
      "encoding": {
        "x": {"field": "x0", "type": "quantitative", "axis": null, "scale": {"domain": [0,1,2,3,4,5,6], "range": [9,110,1238.5,1240,1264,1337,1345]}},
        "x2": {"field": "x1"},
        "y": {"field": "y0", "type": "quantitative", "axis": null, "scale": {"domain": [0,1,2,3,4,5,6,7,8,9,10,11], "range": [366,600,636,647.5,699,714,716,745,821,850,945,965]}},
        "y2": {"field": "y1"}
      }
    },
    {
      "data": {"values": [{"slot":0,"label":"Overview Chart"}]},
      "mark": {"type": "text", "font": "Liberation Serif", "fontSize": 14, "color": "#333333", "align": "center", "baseline": "middle"},
      "encoding": {
        "x": {"field": "slot", "type": "quantitative", "axis": null, "scale": {"domain": [0,1], "range": [678,679]}},
        "y": {"field": "slot", "type": "quantitative", "axis": null, "scale": {"domain": [0,1], "range": [385,386]}},
        "text": {"field": "label"}
      }
    },
    {
      "data": {"values": [{"slot":0,"label":"milliseconds"}]},
      "mark": {"type": "text", "font": "Liberation Serif", "fontSize": 14.3, "color": "#333333", "align": "left", "baseline": "middle"},
      "encoding": {
        "x": {"field": "slot", "type": "quantitative", "axis": null, "scale": {"domain": [0,1], "range": [15,16]}},
        "y": {"field": "slot", "type": "quantitative", "axis": null, "scale": {"domain": [0,1], "range": [708,709]}},
        "text": {"field": "label"}
      }
    },
    {
      "data": {"values": [{"slot":0,"label":"\"Order Entry (PLSQL) V2'"}]},
      "mark": {"type": "text", "font": "Liberation Serif", "fontSize": 14, "color": "#000000", "align": "left", "baseline": "middle"},
      "encoding": {
        "x": {"field": "slot", "type": "quantitative", "axis": null, "scale": {"domain": [0,1], "range": [18,19]}},
        "y": {"field": "slot", "type": "quantitative", "axis": null, "scale": {"domain": [0,1], "range": [980,981]}},
        "text": {"field": "label"}
      }
    },
    {
      "data": {"values": [{"top": 0, "bottom": 1}]},
      "mark": {"type": "rect", "color": {"gradient": "linear", "x1": 1, "y1": 0, "x2": 1, "y2": 1, "stops": [{"offset": 0, "color": "#00ff00"}, {"offset": 1, "color": "#005a00"}]}},
      "encoding": {
        "x": {"datum": 0, "type": "quantitative", "axis": null, "scale": {"domain": [0, 1], "range": [1245, 1258]}},
        "x2": {"datum": 1},
        "y": {"field": "top", "type": "quantitative", "axis": null, "scale": {"domain": [0,1,2,3,4,5,6], "range": [773,791,809,821,892,910,928]}},
        "y2": {"field": "bottom"}
      }
    },
    {
      "data": {"values": [{"top": 1, "bottom": 2}]},
      "mark": {"type": "rect", "color": {"gradient": "linear", "x1": 1, "y1": 0, "x2": 1, "y2": 1, "stops": [{"offset": 0, "color": "#ff0000"}, {"offset": 1, "color": "#5a0000"}]}},
      "encoding": {
        "x": {"datum": 0, "type": "quantitative", "axis": null, "scale": {"domain": [0, 1], "range": [1245, 1258]}},
        "x2": {"datum": 1},
        "y": {"field": "top", "type": "quantitative", "axis": null, "scale": {"domain": [0,1,2,3,4,5,6], "range": [773,791,809,821,892,910,928]}},
        "y2": {"field": "bottom"}
      }
    },
    {
      "data": {"values": [{"top": 2, "bottom": 3}]},
      "mark": {"type": "rect", "color": {"gradient": "linear", "x1": 1, "y1": 0, "x2": 1, "y2": 1, "stops": [{"offset": 0, "color": "#0000ff"}, {"offset": 1, "color": "#0000a0"}]}},
      "encoding": {
        "x": {"datum": 0, "type": "quantitative", "axis": null, "scale": {"domain": [0, 1], "range": [1245, 1258]}},
        "x2": {"datum": 1},
        "y": {"field": "top", "type": "quantitative", "axis": null, "scale": {"domain": [0,1,2,3,4,5,6], "range": [773,791,809,821,892,910,928]}},
        "y2": {"field": "bottom"}
      }
    },
    {
      "data": {"values": [{"top": 4, "bottom": 5}]},
      "mark": {"type": "rect", "color": {"gradient": "linear", "x1": 1, "y1": 0, "x2": 1, "y2": 1, "stops": [{"offset": 0, "color": "#f6e07a"}, {"offset": 1, "color": "#847240"}]}},
      "encoding": {
        "x": {"datum": 0, "type": "quantitative", "axis": null, "scale": {"domain": [0, 1], "range": [1245, 1258]}},
        "x2": {"datum": 1},
        "y": {"field": "top", "type": "quantitative", "axis": null, "scale": {"domain": [0,1,2,3,4,5,6], "range": [773,791,809,821,892,910,928]}},
        "y2": {"field": "bottom"}
      }
    },
    {
      "data": {"values": [{"top": 5, "bottom": 6}]},
      "mark": {"type": "rect", "color": {"gradient": "linear", "x1": 1, "y1": 0, "x2": 1, "y2": 1, "stops": [{"offset": 0, "color": "#5a80b0"}, {"offset": 1, "color": "#2a4060"}]}},
      "encoding": {
        "x": {"datum": 0, "type": "quantitative", "axis": null, "scale": {"domain": [0, 1], "range": [1245, 1258]}},
        "x2": {"datum": 1},
        "y": {"field": "top", "type": "quantitative", "axis": null, "scale": {"domain": [0,1,2,3,4,5,6], "range": [773,791,809,821,892,910,928]}},
        "y2": {"field": "bottom"}
      }
    }
  ]
}
